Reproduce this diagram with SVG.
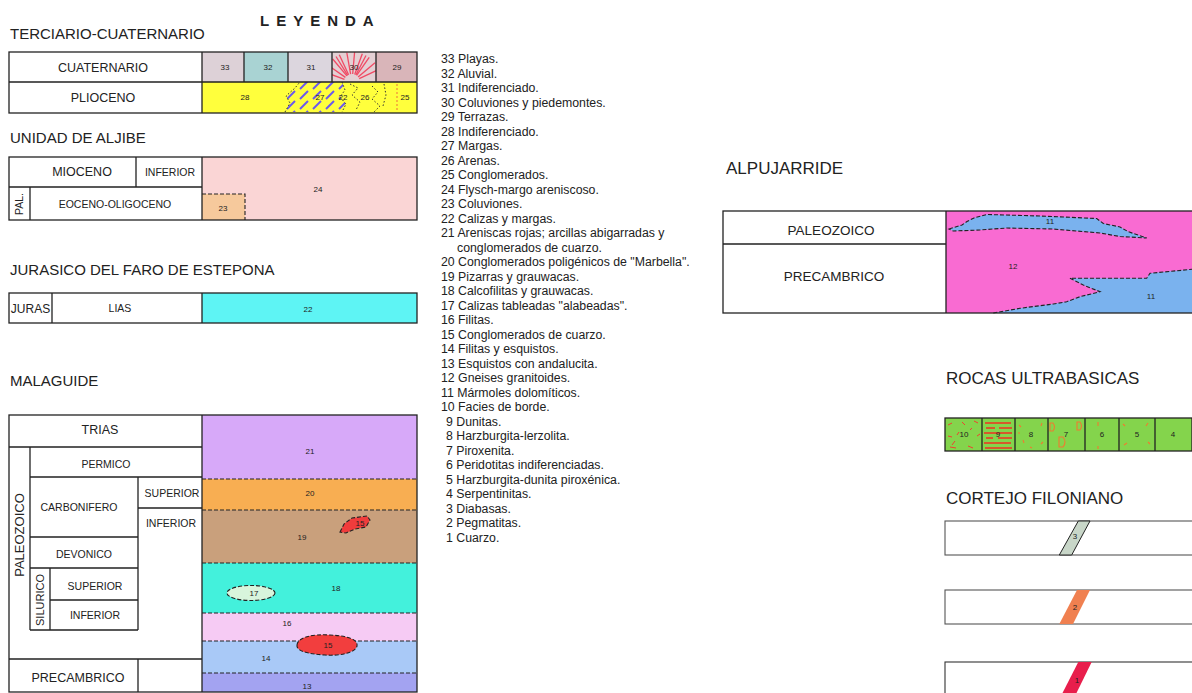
<svg xmlns="http://www.w3.org/2000/svg" width="1192" height="693" viewBox="0 0 1192 693">
<style>
text{font-family:"Liberation Sans",Arial,sans-serif;fill:#222}
.hd{font-size:15px}
.hr{font-size:17px}
.tt{font-size:15px;font-weight:bold;letter-spacing:7px}
.c{text-anchor:middle}
.n{font-size:8px;text-anchor:middle}
.lg{font-size:12.3px}
.box{fill:none;stroke:#222;stroke-width:1.3}
.ln{stroke:#222;stroke-width:1.3;fill:none}
.ds{stroke:#222;stroke-width:1.1;stroke-dasharray:4 2}
.dt{stroke:#333;stroke-width:1;stroke-dasharray:1.5 2}
</style>
<defs>
<pattern id="hatch" patternUnits="userSpaceOnUse" width="13" height="10">
<line x1="1" y1="9" x2="9" y2="1" stroke="#6a58ee" stroke-width="2"/>
</pattern>
<clipPath id="c30"><rect x="332" y="52" width="44" height="30"/></clipPath>
</defs>
<rect width="1192" height="693" fill="#fff"/>

<text x="260" y="26" class="tt">LEYENDA</text>

<g id="terciario">
<text x="10" y="39" class="hd">TERCIARIO-CUATERNARIO</text>
<rect x="202" y="52" width="42" height="30" fill="#ddd1d7"/>
<rect x="244" y="52" width="44" height="30" fill="#a9d3d3"/>
<rect x="288" y="52" width="44" height="30" fill="#dcd6de"/>
<rect x="332" y="52" width="44" height="30" fill="#e4d0d4"/>
<rect x="376" y="52" width="41" height="30" fill="#d9b5b9"/>
<g clip-path="url(#c30)" stroke="#f04a64" stroke-width="1.3">
<line x1="344.5" y1="79.3" x2="323.8" y2="71.7"/>
<line x1="345.4" y1="77.4" x2="327.4" y2="64.8"/>
<line x1="346.9" y1="75.9" x2="332.7" y2="59"/>
<line x1="347.7" y1="75.3" x2="336" y2="56.5"/>
<line x1="348.6" y1="74.8" x2="339.3" y2="54.8"/>
<line x1="350.6" y1="74.1" x2="346.8" y2="52.5"/>
<line x1="352.7" y1="74" x2="354.6" y2="52.1"/>
<line x1="354.7" y1="74.5" x2="362.3" y2="53.8"/>
<line x1="355.8" y1="75" x2="366" y2="55.5"/>
<line x1="356.6" y1="75.4" x2="369.2" y2="57.4"/>
<line x1="358.1" y1="76.9" x2="375" y2="62.7"/>
<line x1="359.2" y1="78.6" x2="379" y2="69.3"/>
</g>
<rect x="202" y="82" width="215" height="31" fill="#ffff3c"/>
<path d="M285,112 L290,103 L286,96 L295,88 L300,82 L342,82 L345,90 L340,97 L346,104 L342,112 Z" fill="url(#hatch)"/>
<path d="M285,112 L290,103 L286,96 L295,88 L300,82 M342,82 L345,90 L340,97 L346,104 L342,112" class="dt" fill="none"/>
<path d="M350,84 L358,88 L352,95 L360,102 L356,110 M372,86 L378,92 L372,99 L380,106 L374,112 M384,84 L386,95 L383,106" class="dt" fill="none"/>
<line x1="397" y1="84" x2="397" y2="112" stroke="#f08a3c" stroke-width="1.2" stroke-dasharray="2 2"/>
<rect x="9" y="52" width="408" height="61" class="box"/>
<path d="M9,82 H417 M202,52 V113 M244,52 V82 M288,52 V82 M332,52 V82 M376,52 V82" class="ln"/>
<text x="103" y="72" class="c" font-size="12.5">CUATERNARIO</text>
<text x="103" y="102" class="c" font-size="12.5">PLIOCENO</text>
<text x="225" y="70" class="n">33</text>
<text x="268" y="70" class="n">32</text>
<text x="311" y="70" class="n">31</text>
<text x="354" y="70" class="n">30</text>
<text x="397" y="70" class="n">29</text>
<text x="245" y="100" class="n">28</text>
<text x="320" y="100" class="n">27</text>
<text x="343" y="100" class="n">22</text>
<text x="365" y="100" class="n">26</text>
<text x="405" y="100" class="n">25</text>
</g>

<g id="aljibe">
<text x="10" y="143" class="hd">UNIDAD DE ALJIBE</text>
<rect x="202" y="157" width="215" height="63" fill="#fad5d5"/>
<rect x="202" y="194" width="43" height="26" fill="#f6c99c"/>
<path d="M202,194 H245 V220" class="ds" fill="none"/>
<rect x="9" y="157" width="408" height="63" class="box"/>
<path d="M9,187 H202 M136,157 V187 M202,157 V220 M30,187 V220" class="ln"/>
<text x="82" y="176" class="c" font-size="12.5">MIOCENO</text>
<text x="170" y="176" class="c" font-size="10.5">INFERIOR</text>
<text transform="translate(23,204) rotate(-90)" class="c" font-size="10.5">PAL.</text>
<text x="115" y="208" class="c" font-size="10.5">EOCENO-OLIGOCENO</text>
<text x="318" y="192" class="n">24</text>
<text x="223" y="211" class="n">23</text>
</g>

<g id="jurasico">
<text x="10" y="275" class="hd">JURASICO DEL FARO DE ESTEPONA</text>
<rect x="202" y="293" width="215" height="30" fill="#5ef4f4"/>
<rect x="9" y="293" width="408" height="30" class="box"/>
<path d="M52,293 V323 M202,293 V323" class="ln"/>
<text x="30.5" y="313" class="c" font-size="12">JURAS</text>
<text x="120" y="312" class="c" font-size="10.5">LIAS</text>
<text x="308" y="312" class="n">22</text>
</g>

<g id="malaguide">
<text x="10" y="386" class="hd">MALAGUIDE</text>
<rect x="202" y="415" width="215" height="64" fill="#d7a9f9"/>
<rect x="202" y="479" width="215" height="31" fill="#f8ae52"/>
<rect x="202" y="510" width="215" height="53" fill="#c9a07c"/>
<rect x="202" y="563" width="215" height="50" fill="#43f1dc"/>
<rect x="202" y="613" width="215" height="28" fill="#f6cbf4"/>
<rect x="202" y="641" width="215" height="32" fill="#a9c9f7"/>
<rect x="202" y="673" width="215" height="19" fill="#a3a3f1"/>
<path d="M202,479 H417 M202,510 H417 M202,563 H417 M202,613 H417 M202,641 H417 M202,673 H417" class="ds" fill="none"/>
<path d="M340,532 L344,524 L352,518 L367,516 L370,520 L366,527 L355,529 L346,533 Z" fill="#f03c3c" class="ds"/>
<ellipse cx="251" cy="593" rx="24" ry="7.5" fill="#d8f5dc" class="ds"/>
<path d="M297,645 C298,637 312,634 330,635 C350,636 358,640 357,646 C355,653 340,656 325,655 C308,654 296,651 297,645 Z" fill="#f23e3e" class="ds"/>
<rect x="9" y="415" width="408" height="277" class="box"/>
<path d="M9,447 H202 M30,447 V630 M30,477 H202 M138,477 V630 M138,508 H202 M30,537 H138 M30,568 H138 M50,568 V630 M50,600 H138 M30,630 H138 M9,659 H202 M138,659 V692 M202,415 V692" class="ln"/>
<text x="100" y="434" class="c" font-size="12.5">TRIAS</text>
<text x="106" y="468" class="c" font-size="10.5">PERMICO</text>
<text x="79" y="511" class="c" font-size="10.5">CARBONIFERO</text>
<text x="172" y="497" class="c" font-size="10.5">SUPERIOR</text>
<text x="171" y="527" class="c" font-size="10.5">INFERIOR</text>
<text x="84" y="558" class="c" font-size="10.5">DEVONICO</text>
<text x="95" y="590" class="c" font-size="10.5">SUPERIOR</text>
<text x="95" y="619" class="c" font-size="10.5">INFERIOR</text>
<text x="78" y="682" class="c" font-size="12.5">PRECAMBRICO</text>
<text transform="translate(24,535) rotate(-90)" class="c" font-size="13">PALEOZOICO</text>
<text transform="translate(44,600) rotate(-90)" class="c" font-size="11">SILURICO</text>
<text x="310" y="454" class="n">21</text>
<text x="310" y="496" class="n">20</text>
<text x="302" y="540" class="n">19</text>
<text x="360" y="526" class="n">15</text>
<text x="336" y="591" class="n">18</text>
<text x="254" y="596" class="n">17</text>
<text x="287" y="626" class="n">16</text>
<text x="328" y="648" class="n">15</text>
<text x="266" y="661" class="n">14</text>
<text x="307" y="689" class="n">13</text>
</g>

<g id="leyenda-texto" class="lg">
<text x="441" y="63">33 Playas.</text>
<text x="441" y="77.5">32 Aluvial.</text>
<text x="441" y="92">31 Indiferenciado.</text>
<text x="441" y="106.5">30 Coluviones y piedemontes.</text>
<text x="441" y="121">29 Terrazas.</text>
<text x="441" y="135.5">28 Indiferenciado.</text>
<text x="441" y="150">27 Margas.</text>
<text x="441" y="164.5">26 Arenas.</text>
<text x="441" y="179">25 Conglomerados.</text>
<text x="441" y="193.5">24 Flysch-margo areniscoso.</text>
<text x="441" y="208">23 Coluviones.</text>
<text x="441" y="222.5">22 Calizas y margas.</text>
<text x="441" y="237">21 Areniscas rojas; arcillas abigarradas y</text>
<text x="457" y="251.5">conglomerados de cuarzo.</text>
<text x="441" y="266">20 Conglomerados poligénicos de "Marbella".</text>
<text x="441" y="280.5">19 Pizarras y grauwacas.</text>
<text x="441" y="295">18 Calcofilitas y grauwacas.</text>
<text x="441" y="309.5">17 Calizas tableadas "alabeadas".</text>
<text x="441" y="324">16 Filitas.</text>
<text x="441" y="338.5">15 Conglomerados de cuarzo.</text>
<text x="441" y="353">14 Filitas y esquistos.</text>
<text x="441" y="367.5">13 Esquistos con andalucita.</text>
<text x="441" y="382">12 Gneises granitoides.</text>
<text x="441" y="396.5">11 Mármoles dolomíticos.</text>
<text x="441" y="411">10 Facies de borde.</text>
<text x="446" y="425.5">9 Dunitas.</text>
<text x="446" y="440">8 Harzburgita-lerzolita.</text>
<text x="446" y="454.5">7 Piroxenita.</text>
<text x="446" y="469">6 Peridotitas indiferenciadas.</text>
<text x="446" y="483.5">5 Harzburgita-dunita piroxénica.</text>
<text x="446" y="498">4 Serpentinitas.</text>
<text x="446" y="512.5">3 Diabasas.</text>
<text x="446" y="527">2 Pegmatitas.</text>
<text x="446" y="541.5">1 Cuarzo.</text>
</g>

<g id="alpujarride">
<text x="726" y="174" class="hr">ALPUJARRIDE</text>
<rect x="946" y="211" width="246" height="102" fill="#f96bd2"/>
<path d="M949,229 L962,225 L967,221.5 L974,218 L986.7,214.5 L1040,216 L1096.7,218.5 L1103.3,223.5 L1120,227 L1128.3,231.7 L1146.7,238 L1120,236.5 L1100,233 L1053.3,229 L1006.7,228 L980,230 L953.3,231 Z" fill="#7ab2ee" class="ds"/>
<path d="M1070,278.3 L1146.7,278.3 L1150,273.3 L1192,269.3 L1192,313 L993.3,313 L1020,308.3 L1053.3,304 L1066.7,301.7 L1080,296.7 L1100,291.7 L1083.3,285 Z" fill="#7ab2ee"/>
<path d="M993.3,313 L1020,308.3 L1053.3,304 L1066.7,301.7 L1080,296.7 L1100,291.7 L1083.3,285 L1070,278.3 L1146.7,278.3 L1150,273.3 L1192,269.3" class="ds" fill="none"/>
<rect x="723" y="211" width="470" height="102" class="box"/>
<path d="M723,244 H946 M946,211 V313" class="ln"/>
<text x="831" y="235" class="c" font-size="13.5">PALEOZOICO</text>
<text x="834" y="281" class="c" font-size="13.5">PRECAMBRICO</text>
<text x="1050" y="224" class="n">11</text>
<text x="1013" y="269" class="n">12</text>
<text x="1151" y="299" class="n">11</text>
</g>

<g id="ultrabasicas">
<text x="946" y="384" class="hr">ROCAS ULTRABASICAS</text>
<rect x="945" y="418" width="247" height="33" fill="#84d44c"/>
<g stroke="#f04030" stroke-width="1" fill="none">
<path d="M948,425 l4,-2 M955,441 l-3,4 M950,447 l6,1 M962,422 l3,3 M974,421 l4,2 M977,436 l3,-2 M968,446 l5,2 M959,432 l-2,3 M948,436 l4,1 M972,428 l-2,2"/>
</g>
<g stroke="#f03020" stroke-width="1.6">
<path d="M985,423 H1011 M986,428 H995 M999,428 H1012 M984,433 H1012 M986,438 H993 M998,438 H1012 M984,443 H1011 M985,448 H1012"/>
</g>
<g stroke="#f07a30" stroke-width="1.1" fill="none">
<path d="M1019,425 l2,2 M1042,423 l-1,3 M1023,440 l1,3 M1043,442 l-2,2 M1030,447 l2,1 M1018,433 l2,0"/>
<path d="M1050,423 h3 q3,4 0,8 h-3 Z M1077,422 h3 q3,4 0,8 h-3 Z M1059,437 h4 q4,5 0,10 h-4 Z"/>
<path d="M1098,422 v4 M1098,446 v3"/>
<path d="M1123,424 l2,2 M1148,423 l-2,3 M1124,445 l3,-2 M1150,444 l-2,-2"/>
</g>
<rect x="945" y="418" width="247" height="33" class="box"/>
<path d="M982,418 V451 M1015,418 V451 M1048,418 V451 M1085,418 V451 M1119,418 V451 M1155,418 V451" class="ln"/>
<text x="964" y="437" class="n">10</text>
<text x="998" y="437" class="n">9</text>
<text x="1031" y="437" class="n">8</text>
<text x="1066" y="437" class="n">7</text>
<text x="1102" y="437" class="n">6</text>
<text x="1137" y="437" class="n">5</text>
<text x="1173" y="437" class="n">4</text>
</g>

<g id="filoniano">
<text x="946" y="504" class="hr">CORTEJO FILONIANO</text>
<g id="filon-3">
<rect x="945" y="521" width="248" height="34" fill="none" stroke="#555" stroke-width="1.1"/>
<polygon points="1078.3,521 1090,521 1071.7,555 1059.3,555" fill="#c8d6c8" stroke="#222" stroke-width="1"/>
<text x="1075" y="539" class="n">3</text>
</g>
<g id="filon-2">
<rect x="945" y="590" width="248" height="34" fill="none" stroke="#555" stroke-width="1.1"/>
<polygon points="1077,590 1090,590 1073,624 1059.3,624" fill="#f08050"/>
<text x="1075" y="610" class="n">2</text>
</g>
<g id="filon-1">
<rect x="945" y="662" width="248" height="40" fill="none" stroke="#333" stroke-width="1.1"/>
<polygon points="1078.3,662 1091.7,662 1076,694 1062,694" fill="#e81e4c"/>
<text x="1077" y="683" class="n">1</text>
</g>
</g>
</svg>
